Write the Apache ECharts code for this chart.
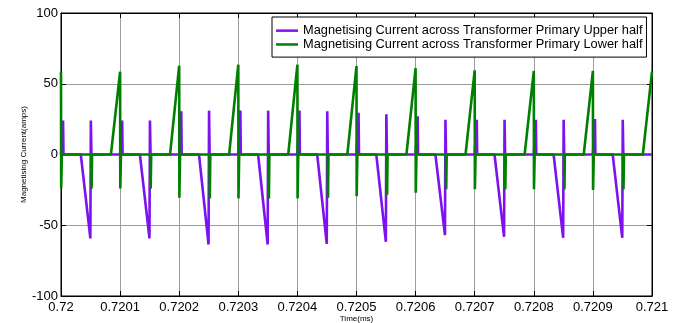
<!DOCTYPE html>
<html>
<head>
<meta charset="utf-8">
<script src="https://cdn.jsdelivr.net/npm/echarts@6/dist/echarts.min.js"></script>
<style>
  html, body { margin: 0; padding: 0; background: #fff; }
  #chart { width: 677px; height: 323px; }
</style>
</head>
<body>
<div id="chart"></div>
<script>
// Switching cycles of the push-pull primary, one per 0.0001 ms
const cycleStart = [0.72, 0.7201, 0.7202, 0.7203, 0.7204, 0.7205, 0.7206, 0.7207, 0.7208, 0.7209];
const cycleLength = 0.0001;
const endTime = 0.721;

// Upper half: negative ramp trough in each cycle (A)
const upperTrough = [-59.3, -59.3, -63.6, -63.6, -63.2, -61.7, -57.0, -58.2, -58.9, -58.9];
// Lower half: positive ramp peak at each cycle boundary (A), 11 boundaries
const lowerPeak = [58.5, 58.5, 62.8, 63.5, 63.5, 62.5, 61.0, 59.5, 59.0, 59.0, 58.5];
// Switching spikes at the start of each cycle (A)
const edgeSpike = [24.0, 24.0, 30.5, 31.0, 31.0, 29.5, 27.0, 24.5, 24.5, 25.0];
// Switching spikes at mid-cycle (A)
const midSpike = [24.0, 24.0, 31.0, 31.0, 30.5, 28.5, 24.5, 24.5, 24.5, 24.5];

// Event instants inside a cycle, as fractions of the cycle length
const upperPhase = { edgeUp: 0.03, edgeTop: 0.035, edgeDown: 0.042, rampStart: 0.335, trough: 0.497, spike: 0.505, settle: 0.515 };
const lowerPhase = { drop: 0.003, settle: 0.015, spikeStart: 0.512, spike: 0.518, spikeEnd: 0.526, rampStart: 0.845 };

const xTickLabels = ['0.72', '0.7201', '0.7202', '0.7203', '0.7204', '0.7205', '0.7206', '0.7207', '0.7208', '0.7209', '0.721'];
const yTickLabels = ['-100', '-50', '0', '50', '100'];

const seriesNames = [
  'Magnetising Current across Transformer Primary Upper half',
  'Magnetising Current across Transformer Primary Lower half'
];

// Piecewise-linear waveforms assembled from the per-cycle values
const upperData = [];
const lowerData = [];
cycleStart.forEach((t0, k) => {
  const at = f => t0 + f * cycleLength;
  const p = upperPhase;
  upperData.push([t0, 0], [at(p.edgeUp), 0], [at(p.edgeTop), edgeSpike[k]], [at(p.edgeDown), 0],
    [at(p.rampStart), 0], [at(p.trough), upperTrough[k]], [at(p.spike), midSpike[k]], [at(p.settle), 0]);
  const q = lowerPhase;
  lowerData.push([t0, lowerPeak[k]], [at(q.drop), -edgeSpike[k]], [at(q.settle), 0],
    [at(q.spikeStart), 0], [at(q.spike), -midSpike[k]], [at(q.spikeEnd), 0],
    [at(q.rampStart), 0]);
});
upperData.push([endTime, 0]);
lowerData.push([endTime, lowerPeak[lowerPeak.length - 1]]);

const font = "'Liberation Sans', Arial, sans-serif";
const tickStyle = { show: true, inside: true, length: 5, lineStyle: { color: '#000', width: 1 } };
const gridLine = { show: true, lineStyle: { color: '#9c9c9c', width: 1 } };
const xLabel = v => xTickLabels[Math.round((v - cycleStart[0]) / cycleLength)] || '';
const yLabel = v => yTickLabels[Math.round((v + 100) / 50)] || '';

const chart = echarts.init(document.getElementById('chart'), null, { renderer: 'canvas' });
chart.setOption({
  animation: false,
  backgroundColor: '#fff',
  grid: {
    left: 61, right: 25, top: 13, bottom: 27,
    show: true, borderColor: '#000', borderWidth: 1,
    containLabel: false, outerBoundsMode: 'none'
  },
  legend: {
    orient: 'vertical',
    left: 272, top: 17,
    padding: [7, 4, 6, 4],
    itemGap: 0.5,
    itemWidth: 22, itemHeight: 2.5,
    icon: 'rect',
    backgroundColor: '#fff',
    borderColor: '#000', borderWidth: 1, borderRadius: 0,
    textStyle: { fontFamily: font, fontSize: 12.8, color: '#000', lineHeight: 13.3 },
    data: seriesNames
  },
  xAxis: [{
    type: 'value', position: 'bottom',
    min: cycleStart[0], max: endTime, interval: cycleLength,
    name: 'Time(ms)', nameLocation: 'middle', nameGap: 19, nameMoveOverlap: false,
    nameTextStyle: { fontFamily: font, fontSize: 8, color: '#000' },
    axisLine: { show: true, onZero: false, lineStyle: { color: '#000', width: 1 } },
    axisTick: tickStyle,
    axisLabel: { fontFamily: font, fontSize: 13, color: '#000', margin: 5, formatter: xLabel, showMinLabel: true, showMaxLabel: true },
    splitLine: gridLine
  }, {
    type: 'value', position: 'top',
    min: cycleStart[0], max: endTime, interval: cycleLength,
    axisLine: { show: true, onZero: false, lineStyle: { color: '#000', width: 1 } },
    axisTick: tickStyle, axisLabel: { show: false }, splitLine: { show: false }
  }],
  yAxis: [{
    type: 'value', position: 'left',
    min: -100, max: 100, interval: 50,
    name: 'Magnetising Current(amps)', nameLocation: 'middle', nameGap: 33, nameMoveOverlap: false,
    nameTextStyle: { fontFamily: font, fontSize: 8, color: '#000' },
    axisLine: { show: true, onZero: false, lineStyle: { color: '#000', width: 1 } },
    axisTick: tickStyle,
    axisLabel: { fontFamily: font, fontSize: 13, color: '#000', margin: 3, formatter: yLabel, showMinLabel: true, showMaxLabel: true },
    splitLine: gridLine
  }, {
    type: 'value', position: 'right',
    min: -100, max: 100, interval: 50,
    axisLine: { show: true, onZero: false, lineStyle: { color: '#000', width: 1 } },
    axisTick: tickStyle, axisLabel: { show: false }, splitLine: { show: false }
  }],
  series: [{
    name: seriesNames[0], type: 'line', data: upperData,
    symbol: 'none', showSymbol: false, sampling: null,
    lineStyle: { color: '#7d12ee', width: 2.6 }, itemStyle: { color: '#7d12ee' },
    clip: true, z: 2
  }, {
    name: seriesNames[1], type: 'line', data: lowerData,
    symbol: 'none', showSymbol: false, sampling: null,
    lineStyle: { color: '#008000', width: 2.6 }, itemStyle: { color: '#008000' },
    clip: true, z: 3
  }]
});
</script>
</body>
</html>
